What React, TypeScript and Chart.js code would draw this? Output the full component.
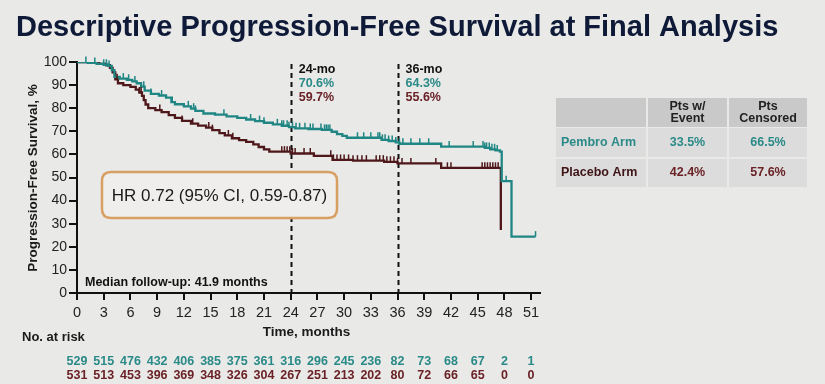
import React, { useEffect, useRef } from "react";
import { Chart, registerables } from "chart.js";

Chart.register(...registerables);

// ---------- DATA ----------
const xTicks = [0, 3, 6, 9, 12, 15, 18, 21, 24, 27, 30, 33, 36, 39, 42, 45, 48, 51];

const pembroTimes = [0, 1.2, 2.2, 3.0, 3.5, 3.9, 4.2, 4.8, 5.6, 6.2, 6.7, 7.2, 7.6, 8.3, 9.2, 10.0, 10.6, 11.0, 12.0, 12.8, 13.3, 14.2, 15.5, 16.8, 18.0, 19.0, 20.0, 21.0, 22.0, 23.0, 23.8, 24.5, 26.0, 27.5, 28.6, 29.2, 29.8, 30.3, 34.2, 35.0, 35.8, 36.2, 40.9, 45.8, 46.4, 47.0, 47.5, 47.7, 48.8, 51.5];
const pembroSurv = [100, 99.6, 99.2, 98.8, 98.3, 96.5, 93.6, 92.8, 92.3, 91.6, 90.8, 89.3, 87.6, 86.2, 85.5, 84.6, 82.6, 81.7, 80.8, 79.8, 78.8, 77.7, 77.2, 76.5, 75.8, 75.1, 74.4, 73.7, 73.0, 72.4, 71.8, 71.3, 71.0, 70.6, 69.8, 68.8, 68.0, 67.2, 66.3, 65.8, 65.2, 64.6, 63.4, 62.8, 62.2, 61.7, 61.2, 48.4, 24.4, 24.4];

const placeboTimes = [0, 1.5, 2.5, 3.3, 3.7, 4.0, 4.3, 4.6, 5.2, 6.0, 6.6, 7.0, 7.3, 7.5, 7.7, 8.0, 8.8, 9.5, 10.3, 11.0, 11.8, 12.8, 13.6, 14.5, 15.2, 16.0, 16.6, 17.4, 18.2, 19.0, 19.8, 20.4, 21.0, 21.6, 24.0, 26.6, 28.7, 31.0, 34.5, 36.0, 40.9, 47.6];
const placeboSurv = [100, 99.6, 99.2, 98.6, 97.5, 95.5, 92.5, 90.8, 90.0, 89.2, 88.0, 86.8, 85.3, 83.5, 81.6, 80.0, 79.2, 78.3, 77.0, 75.8, 74.5, 73.3, 72.5, 71.6, 70.5, 69.2, 68.2, 67.0, 66.2, 65.4, 64.3, 63.2, 62.2, 61.2, 60.4, 59.4, 57.6, 57.3, 56.8, 56.1, 54.2, 27.3];

const pembroCensor = [1, 2, 3, 3.3, 3.6, 5.2, 5.8, 6.5, 7.5, 8.3, 9.5, 10.7, 12.5, 13.1, 13.3, 16.5, 19.5, 20.5, 21, 22.5, 23, 23.2, 23.6, 23.8, 24.2, 24.6, 25, 25.6, 26.2, 26.5, 27.4, 27.8, 28.0, 28.2, 28.4, 31.5, 32.2, 33, 33.8, 34.0, 34.3, 34.6, 35, 35.4, 35.8, 36.2, 36.6, 37.5, 38.5, 39.5, 41.8, 44.5, 45.6, 45.8, 46, 46.3, 46.6, 46.9, 47.2, 48.2, 51.5];
const placeboCensor = [4.5, 7.0, 7.2, 9.3, 11.8, 13, 14.8, 15.2, 17, 17.5, 23, 23.3, 23.6, 23.9, 24.2, 24.5, 25.5, 26.2, 28.5, 28.8, 29.2, 29.6, 30, 30.5, 31, 31.5, 32, 32.5, 33.6, 34, 34.4, 34.8, 35.2, 35.6, 36, 36.5, 37.5, 40.3, 41.6, 42, 45.5, 45.8, 46.1, 46.4, 46.7, 47, 47.3, 47.6];

const atRiskPembro = [529, 515, 476, 432, 406, 385, 375, 361, 316, 296, 245, 236, 82, 73, 68, 67, 2, 1];
const atRiskPlacebo = [531, 513, 453, 396, 369, 348, 326, 304, 267, 251, 213, 202, 80, 72, 66, 65, 0, 0];

const landmarkMonths = [24, 36];
const landmarkLabels = ["24-mo", "36-mo"];
const landmarkPembro = ["70.6%", "64.3%"];
const landmarkPlacebo = ["59.7%", "55.6%"];

const tableRows = ["Pembro Arm", "Placebo Arm"];
const ptsEvent = ["33.5%", "42.4%"];
const ptsCensored = ["66.5%", "57.6%"];

const TITLE = "Descriptive Progression-Free Survival at Final Analysis";
const HR_TEXT = "HR 0.72 (95% CI, 0.59-0.87)";
const FOLLOWUP = "Median follow-up: 41.9 months";

// ---------- STYLE ----------
const TEAL = "#1f8683";
const TEAL_TEXT = "#2a8a87";
const MAROON = "#4e1719";
const MAROON_TEXT = "#6a2226";
const FONT = "'Liberation Sans', Arial, sans-serif";

function survAt(times: number[], surv: number[], t: number) {
  let v = surv[0];
  for (let i = 0; i < times.length; i++) if (times[i] <= t) v = surv[i];
  return v;
}

function roundRect(ctx: CanvasRenderingContext2D, x: number, y: number, w: number, h: number, r: number) {
  ctx.beginPath();
  ctx.moveTo(x + r, y);
  ctx.lineTo(x + w - r, y);
  ctx.quadraticCurveTo(x + w, y, x + w, y + r);
  ctx.lineTo(x + w, y + h - r);
  ctx.quadraticCurveTo(x + w, y + h, x + w - r, y + h);
  ctx.lineTo(x + r, y + h);
  ctx.quadraticCurveTo(x, y + h, x, y + h - r);
  ctx.lineTo(x, y + r);
  ctx.quadraticCurveTo(x, y, x + r, y);
  ctx.closePath();
}

const overlay = {
  id: "overlay",
  beforeDatasetsDraw(chart: any) {
    const { ctx, scales } = chart;
    const x = scales.x, y = scales.y;
    ctx.save();
    ctx.strokeStyle = "#111";
    ctx.lineWidth = 2;
    ctx.setLineDash([5, 4]);
    landmarkMonths.forEach((m) => {
      const px = Math.round(x.getPixelForValue(m)) + 0.5;
      ctx.beginPath();
      ctx.moveTo(px, y.top + 2);
      ctx.lineTo(px, y.bottom);
      ctx.stroke();
    });
    ctx.restore();
  },
  afterDatasetsDraw(chart: any) {
    const { ctx, scales } = chart;
    const x = scales.x, y = scales.y;
    ctx.save();

    // censor ticks
    const drawCensor = (arr: number[], times: number[], surv: number[], color: string) => {
      ctx.strokeStyle = color;
      ctx.lineWidth = 1.5;
      arr.forEach((t) => {
        const px = x.getPixelForValue(t);
        const py = y.getPixelForValue(survAt(times, surv, t));
        ctx.beginPath();
        ctx.moveTo(px, py);
        ctx.lineTo(px, py - 5.5);
        ctx.stroke();
      });
    };
    drawCensor(pembroCensor, pembroTimes, pembroSurv, TEAL);
    drawCensor(placeboCensor, placeboTimes, placeboSurv, MAROON);

    // HR box
    roundRect(ctx, 102, 172, 235, 46, 9);
    ctx.fillStyle = "#efeeec";
    ctx.fill();
    ctx.strokeStyle = "#d89f62";
    ctx.lineWidth = 2.5;
    ctx.stroke();
    ctx.fillStyle = "#1a1a1a";
    ctx.font = `17px ${FONT}`;
    ctx.textAlign = "center";
    ctx.textBaseline = "middle";
    ctx.fillText(HR_TEXT, 219.5, 196, 216);

    // landmark labels
    ctx.textAlign = "left";
    ctx.font = `bold 12.5px ${FONT}`;
    landmarkMonths.forEach((m, i) => {
      const px = x.getPixelForValue(m) + 8;
      ctx.fillStyle = "#111";
      ctx.fillText(landmarkLabels[i], px, 70);
      ctx.fillStyle = TEAL_TEXT;
      ctx.fillText(landmarkPembro[i], px, 84);
      ctx.fillStyle = MAROON_TEXT;
      ctx.fillText(landmarkPlacebo[i], px, 97.5);
    });

    // median follow-up
    ctx.fillStyle = "#111";
    ctx.font = `bold 12.5px ${FONT}`;
    ctx.fillText(FOLLOWUP, 85, 283);
    ctx.restore();
  },
  afterDraw(chart: any) {
    const { ctx, scales } = chart;
    const x = scales.x;
    ctx.save();
    ctx.textBaseline = "alphabetic";

    // title
    ctx.fillStyle = "#0e1a37";
    ctx.font = `bold 29px ${FONT}`;
    ctx.textAlign = "left";
    ctx.fillText(TITLE, 16, 36, 767);

    // y title
    ctx.save();
    ctx.translate(33, 178);
    ctx.rotate(-Math.PI / 2);
    ctx.textAlign = "center";
    ctx.textBaseline = "middle";
    ctx.font = `bold 13.5px ${FONT}`;
    ctx.fillStyle = "#1a1a1a";
    ctx.fillText("Progression-Free Survival, %", 0, 0, 216);
    ctx.restore();

    // x title
    ctx.textBaseline = "middle";
    ctx.textAlign = "center";
    ctx.font = `bold 13.5px ${FONT}`;
    ctx.fillStyle = "#1a1a1a";
    ctx.fillText("Time, months", (x.left + x.right) / 2 - 2, 332.5);

    // at risk
    ctx.textAlign = "left";
    ctx.font = `bold 13px ${FONT}`;
    ctx.fillText("No. at risk", 22, 337.5);
    ctx.textAlign = "center";
    ctx.font = `bold 12.5px ${FONT}`;
    xTicks.forEach((t, i) => {
      const px = x.getPixelForValue(t);
      ctx.fillStyle = TEAL_TEXT;
      ctx.fillText(String(atRiskPembro[i]), px, 361.5);
      ctx.fillStyle = MAROON_TEXT;
      ctx.fillText(String(atRiskPlacebo[i]), px, 376);
    });

    // table
    const cols = [556, 648, 729];
    const colW = [90, 79, 78];
    const rowsY = [98, 128, 159];
    const rowH = [29, 29, 28];
    for (let r = 0; r < 3; r++) {
      for (let c = 0; c < 3; c++) {
        ctx.fillStyle = r === 0 ? "#c9c9c9" : "#dcdcdc";
        ctx.fillRect(cols[c], rowsY[r], colW[c], rowH[r]);
      }
    }
    ctx.font = `bold 12.5px ${FONT}`;
    ctx.fillStyle = "#222";
    ctx.textAlign = "center";
    ctx.fillText("Pts w/", cols[1] + colW[1] / 2, 106.5);
    ctx.fillText("Event", cols[1] + colW[1] / 2, 119);
    ctx.fillText("Pts", cols[2] + colW[2] / 2, 106.5);
    ctx.fillText("Censored", cols[2] + colW[2] / 2, 119);
    const rowColors = [TEAL_TEXT, MAROON_TEXT];
    tableRows.forEach((name, i) => {
      const cy = rowsY[i + 1] + rowH[i + 1] / 2;
      ctx.fillStyle = i === 0 ? TEAL_TEXT : "#3e1416";
      ctx.textAlign = "left";
      ctx.fillText(name, 561, cy);
      ctx.fillStyle = rowColors[i];
      ctx.textAlign = "center";
      ctx.fillText(ptsEvent[i], cols[1] + colW[1] / 2, cy);
      ctx.fillText(ptsCensored[i], cols[2] + colW[2] / 2, cy);
    });

    ctx.restore();
  },
};

export default function App() {
  const ref = useRef<HTMLCanvasElement | null>(null);

  useEffect(() => {
    document.body.style.margin = "0";
    const canvas = ref.current;
    if (!canvas) return;
    const toXY = (times: number[], surv: number[]) => times.map((t, i) => ({ x: t, y: surv[i] }));
    const chart = new Chart(canvas, {
      type: "line",
      data: {
        datasets: [
          {
            label: "Pembro",
            data: toXY(pembroTimes, pembroSurv),
            borderColor: TEAL,
            borderWidth: 2.3,
            stepped: "before",
            pointRadius: 0,
            fill: false,
          },
          {
            label: "Placebo",
            data: toXY(placeboTimes, placeboSurv),
            borderColor: MAROON,
            borderWidth: 2.3,
            stepped: "before",
            pointRadius: 0,
            fill: false,
          },
        ],
      },
      options: {
        animation: false,
        responsive: false,
        devicePixelRatio: 1,
        layout: { padding: { left: 0, right: 285, top: 62, bottom: 61 } },
        plugins: {
          legend: { display: false },
          tooltip: { enabled: false },
          title: { display: false },
        },
        scales: {
          x: {
            type: "linear",
            min: 0,
            max: 52,
            afterFit: (s: any) => {
              s.height = 30;
            },
            afterBuildTicks: (s: any) => {
              s.ticks = xTicks.map((v) => ({ value: v }));
            },
            grid: {
              display: true,
              drawOnChartArea: false,
              drawTicks: true,
              tickLength: 7,
              color: "#111",
              lineWidth: 2,
            },
            border: { display: true, color: "#111", width: 2 },
            ticks: {
              autoSkip: false,
              maxRotation: 0,
              padding: 4,
              color: "#222",
              font: { family: FONT, size: 14.5 },
            },
          },
          y: {
            min: 0,
            max: 100,
            afterFit: (s: any) => {
              s.width = 77;
            },
            grid: {
              display: true,
              drawOnChartArea: false,
              drawTicks: true,
              tickLength: 8,
              color: "#111",
              lineWidth: 2,
            },
            border: { display: true, color: "#111", width: 2 },
            ticks: {
              stepSize: 10,
              padding: 2,
              color: "#222",
              font: { family: FONT, size: 14 },
            },
          },
        },
      },
      plugins: [overlay],
    } as any);
    return () => chart.destroy();
  }, []);

  return (
    <div
      style={{
        position: "fixed",
        left: 0,
        top: 0,
        width: 825,
        height: 384,
        background: "#e9e9e8",
      }}
    >
      <canvas ref={ref} width={825} height={384} style={{ display: "block" }} />
    </div>
  );
}
